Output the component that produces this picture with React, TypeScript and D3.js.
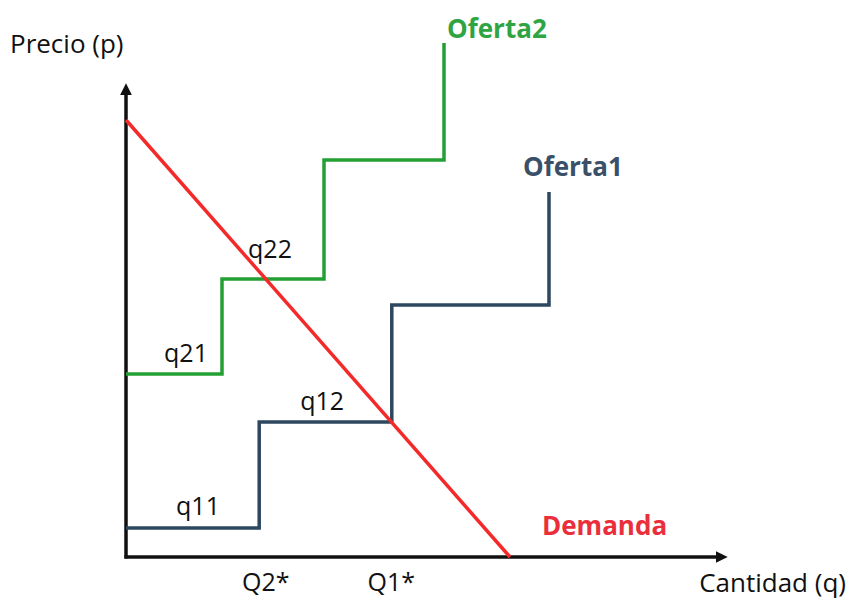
import React, { useEffect, useRef } from 'react';
import * as d3 from 'd3';

// step supply curves: [quantity, price] where each step starts (curveStepAfter)
const oferta1: [number, number][] = [[0, 0.58], [2.22, 2.7], [4.43, 5.04], [7.05, 7.3]];
const oferta2: [number, number][] = [[0, 3.66], [1.6, 5.56], [3.3, 7.94], [5.3, 10.28]];
const demanda: [number, number][] = [[0, 8.74], [6.4, 0]];

// step labels: text, anchor quantity, price level
const stepLabels: { text: string; q: number; p: number; dy: number }[] = [
  { text: 'q11', q: 1.2, p: 0.58, dy: -13 },
  { text: 'q12', q: 3.27, p: 2.7, dy: -12 },
  { text: 'q21', q: 1.0, p: 3.66, dy: -12 },
  { text: 'q22', q: 2.4, p: 5.56, dy: -21 },
];

// equilibrium labels on the quantity axis (price level where demand crosses)
const eqLabels: { text: string; p: number }[] = [
  { text: 'Q2*', p: 5.56 },
  { text: 'Q1*', p: 2.7 },
];

const W = 847;
const H = 600;
const FONT = "'Open Sans', sans-serif";

const App: React.FC = () => {
  const svgRef = useRef<SVGSVGElement>(null);

  useEffect(() => {
    document.body.style.margin = '0';
    if (!svgRef.current) return;
    const svg = d3.select(svgRef.current);
    svg.selectAll('*').remove();

    const x = d3.scaleLinear().domain([0, 10]).range([126, 726]);
    const y = d3.scaleLinear().domain([0, 10]).range([557, 57]);

    svg.append('rect').attr('width', W).attr('height', H).attr('fill', '#fff');

    // arrow markers
    const defs = svg.append('defs');
    defs.append('marker')
      .attr('id', 'arrow')
      .attr('viewBox', '0 0 10 10')
      .attr('refX', 1)
      .attr('refY', 5)
      .attr('markerWidth', 3.4)
      .attr('markerHeight', 3.6)
      .attr('markerUnits', 'strokeWidth')
      .attr('orient', 'auto')
      .append('path')
      .attr('d', 'M0,0 L10,5 L0,10 z')
      .attr('fill', '#111');

    // axes
    svg.append('line')
      .attr('x1', x(0)).attr('y1', y(0) + 1.5)
      .attr('x2', x(0)).attr('y2', 94)
      .attr('stroke', '#111').attr('stroke-width', 3.5)
      .attr('marker-end', 'url(#arrow)');
    svg.append('line')
      .attr('x1', x(0) - 1.5).attr('y1', y(0))
      .attr('x2', 717).attr('y2', y(0))
      .attr('stroke', '#111').attr('stroke-width', 3.5)
      .attr('marker-end', 'url(#arrow)');

    const step = d3.line<[number, number]>()
      .x(d => x(d[0]))
      .y(d => y(d[1]))
      .curve(d3.curveStepAfter);

    svg.append('path')
      .attr('d', step(oferta2))
      .attr('fill', 'none')
      .attr('stroke', '#23a033')
      .attr('stroke-width', 3.5);

    svg.append('path')
      .attr('d', step(oferta1))
      .attr('fill', 'none')
      .attr('stroke', '#2d475f')
      .attr('stroke-width', 3.5);

    const straight = d3.line<[number, number]>().x(d => x(d[0])).y(d => y(d[1]));
    svg.append('path')
      .attr('d', straight(demanda))
      .attr('fill', 'none')
      .attr('stroke', '#f42a2a')
      .attr('stroke-width', 3.5);

    // step labels
    svg.selectAll('text.step')
      .data(stepLabels)
      .enter()
      .append('text')
      .attr('class', 'step')
      .attr('x', d => x(d.q))
      .attr('y', d => y(d.p) + d.dy)
      .attr('text-anchor', 'middle')
      .style('font-family', FONT)
      .style('font-size', '25px')
      .style('fill', '#111')
      .text(d => d.text);

    // equilibrium labels
    const slope = (demanda[0][1] - demanda[1][1]) / (demanda[1][0] - demanda[0][0]);
    svg.selectAll('text.eq')
      .data(eqLabels)
      .enter()
      .append('text')
      .attr('class', 'eq')
      .attr('x', d => x((demanda[0][1] - d.p) / slope))
      .attr('y', 591)
      .attr('text-anchor', 'middle')
      .style('font-family', FONT)
      .style('font-size', '25px')
      .style('fill', '#111')
      .text(d => d.text);

    // axis titles
    svg.append('text')
      .attr('x', 10).attr('y', 53)
      .style('font-family', FONT)
      .style('font-size', '26px')
      .style('fill', '#111')
      .text('Precio (p)');

    svg.append('text')
      .attr('x', 846).attr('y', 592)
      .attr('text-anchor', 'end')
      .style('font-family', FONT)
      .style('font-size', '26px')
      .style('fill', '#111')
      .text('Cantidad (q)');

    // series names
    const names = [
      { text: 'Oferta2', px: 447, py: 38, color: '#2fa443' },
      { text: 'Oferta1', px: 523, py: 176, color: '#3a5068' },
      { text: 'Demanda', px: 542, py: 535, color: '#ea2e3b' },
    ];
    svg.selectAll('text.name')
      .data(names)
      .enter()
      .append('text')
      .attr('class', 'name')
      .attr('x', d => d.px)
      .attr('y', d => d.py)
      .style('font-family', FONT)
      .style('font-size', '26px')
      .style('font-weight', 'bold')
      .style('fill', d => d.color)
      .text(d => d.text);
  }, []);

  return <svg ref={svgRef} width={W} height={H} style={{ display: 'block' }} />;
};

export default App;
